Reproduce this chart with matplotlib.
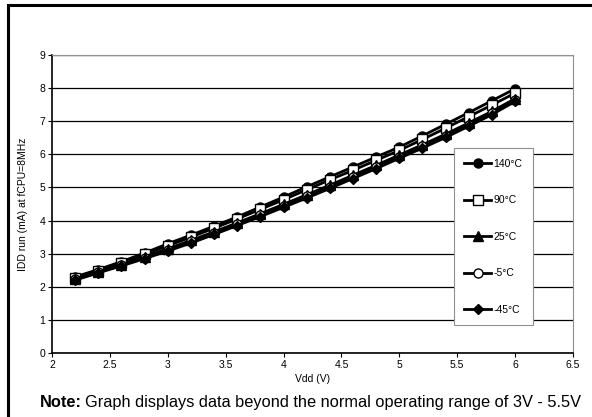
import matplotlib.pyplot as plt
import numpy as np
from matplotlib.patches import Rectangle

plt.rcParams['font.family'] = ['Liberation Sans', 'DejaVu Sans']

# supply voltage (V)
vdd = [2.2, 2.4, 2.6, 2.8, 3.0, 3.2, 3.4, 3.6, 3.8, 4.0,
       4.2, 4.4, 4.6, 4.8, 5.0, 5.2, 5.4, 5.6, 5.8, 6.0]

# IDD run (mA) per temperature
idd_140 = [2.30, 2.52, 2.76, 3.02, 3.30, 3.56, 3.83, 4.11, 4.41, 4.71,
           5.02, 5.32, 5.62, 5.92, 6.22, 6.56, 6.91, 7.26, 7.62, 7.98]
idd_90 = [2.28, 2.49, 2.72, 2.98, 3.24, 3.50, 3.77, 4.05, 4.34, 4.63,
          4.93, 5.23, 5.52, 5.82, 6.12, 6.45, 6.79, 7.14, 7.49, 7.85]
idd_25 = [2.24, 2.45, 2.67, 2.91, 3.15, 3.40, 3.66, 3.93, 4.21, 4.49,
          4.78, 5.07, 5.37, 5.67, 5.98, 6.29, 6.61, 6.95, 7.30, 7.68]
idd_m5 = [2.22, 2.44, 2.65, 2.88, 3.12, 3.37, 3.62, 3.89, 4.17, 4.45,
          4.73, 5.02, 5.32, 5.62, 5.93, 6.24, 6.56, 6.90, 7.25, 7.64]
idd_m45 = [2.20, 2.42, 2.63, 2.85, 3.08, 3.32, 3.58, 3.85, 4.12, 4.40,
           4.68, 4.97, 5.27, 5.57, 5.88, 6.19, 6.51, 6.85, 7.20, 7.60]

labels = ['140°C', '90°C', '25°C', '-5°C', '-45°C']
series = [idd_140, idd_90, idd_25, idd_m5, idd_m45]
markers = ['o', 's', '^', 'o', 'D']
faces = ['black', 'white', 'black', 'white', 'black']
msizes = [6.5, 6.5, 6.5, 6.5, 5.5]

fig = plt.figure(figsize=(5.92, 4.17), dpi=100)
ax = fig.add_axes([52 / 592, 64 / 417, 521 / 592, 298 / 417])

for y, lb, m, fc, ms in zip(series, labels, markers, faces, msizes):
    ax.plot(vdd, y, color='black', lw=2.0, marker=m, markersize=ms,
            markerfacecolor=fc, markeredgecolor='black', markeredgewidth=1.0,
            label=lb)

ax.set_xlim(2, 6.5)
ax.set_ylim(0, 9)
ax.set_xticks(np.arange(2, 6.51, 0.5))
ax.set_xticklabels(['2', '2.5', '3', '3.5', '4', '4.5', '5', '5.5', '6', '6.5'])
ax.set_yticks(range(0, 10))
ax.grid(axis='y', color='black', lw=0.9)
ax.set_axisbelow(True)
for s in ['top', 'right']:
    ax.spines[s].set_color('#909090')
for s in ['left', 'bottom']:
    ax.spines[s].set_color('black')
    ax.spines[s].set_linewidth(1.2)
ax.tick_params(labelsize=7.5, length=3, width=0.8, pad=2)
ax.set_xlabel('Vdd (V)', fontsize=7.5, labelpad=3)
ax.set_ylabel('IDD run (mA) at fCPU=8MHz', fontsize=7.5, labelpad=8)

leg = ax.legend(loc='center', bbox_to_anchor=(0.847, 0.39), fontsize=7.5,
                labelspacing=2.55, handlelength=2.6, handletextpad=0.2,
                borderpad=1.0, fancybox=False, framealpha=1, edgecolor='#909090')
leg.get_frame().set_linewidth(0.8)

# outer frame of the figure box
fig.patches.append(Rectangle((8 / 592, -0.1), 1.0, 0.1 + 412 / 417,
                             transform=fig.transFigure, fill=False,
                             edgecolor='black', lw=2.2))

# cut-off caption above the frame
fig.text(25 / 592, 1.0 + 4 / 417,
         'Figure 19. Typical IDD in Run mode vs. fCPU = 8 MHz',
         fontsize=10, fontweight='bold', va='baseline', ha='left')

note = fig.text(40 / 592, 10 / 417, 'Note:', fontsize=11.8, fontweight='bold',
                va='baseline', ha='left')
fig.canvas.draw()
bb = note.get_window_extent()
fig.text((bb.x1 + 3) / 592, 10 / 417,
         'Graph displays data beyond the normal operating range of 3V - 5.5V',
         fontsize=11.8, va='baseline', ha='left')

fig.savefig('out.png', dpi=100)
